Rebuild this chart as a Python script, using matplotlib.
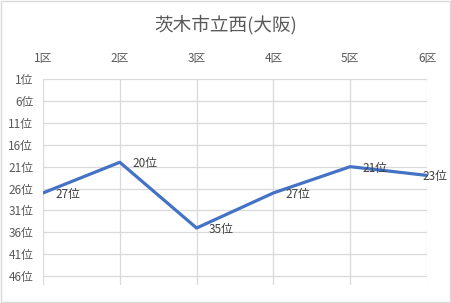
import matplotlib.pyplot as plt

plt.rcParams['font.family'] = ['Noto Sans CJK JP', 'DejaVu Sans']

# chart data
districts = ['1区', '2区', '3区', '4区', '5区', '6区']
ranks = [27, 20, 35, 27, 21, 23]
rank_ticks = [1, 6, 11, 16, 21, 26, 31, 36, 41, 46]
title = '茨木市立西(大阪)'

fig = plt.figure(figsize=(4.51, 3.03), dpi=100)
ax = fig.add_axes([43 / 451, 1 - 285 / 303, 384 / 451, (285 - 79) / 303])

x = list(range(len(districts)))
ax.plot(x, ranks, color='#4472C4', lw=2.3, solid_capstyle='round', zorder=3)
for xi, r in zip(x, ranks):
    # last label would run off the chart, so Excel pulls it back over the point
    dx = 9 if xi < len(districts) - 1 else -3
    ax.annotate(f'{r}位', (xi, r), xytext=(dx, -1), textcoords='offset points',
                fontsize=8.5, color='#404040', va='center', ha='left', zorder=4)

ax.set_xlim(0, len(districts) - 1)
ax.set_ylim(48, 1)
ax.set_xticks(x)
ax.set_xticklabels(districts)
ax.set_yticks(rank_ticks)
ax.set_yticklabels([f'{t}位' for t in rank_ticks])
ax.xaxis.tick_top()
ax.tick_params(axis='both', length=0, labelsize=8.5, labelcolor='#595959')
ax.tick_params(axis='x', pad=10)
ax.tick_params(axis='y', pad=7)
ax.grid(True, color='#D9D9D9', lw=0.9)
for s in ax.spines.values():
    s.set_visible(False)

fig.text(0.5, 1 - 25 / 303, title, ha='center', va='center',
         fontsize=13.4, color='#595959')
fig.patches.append(plt.Rectangle((0.002, 0.003), 0.995, 0.994, transform=fig.transFigure,
                                 fill=False, edgecolor='#D9D9D9', lw=1))

fig.savefig('out.png', dpi=100)
